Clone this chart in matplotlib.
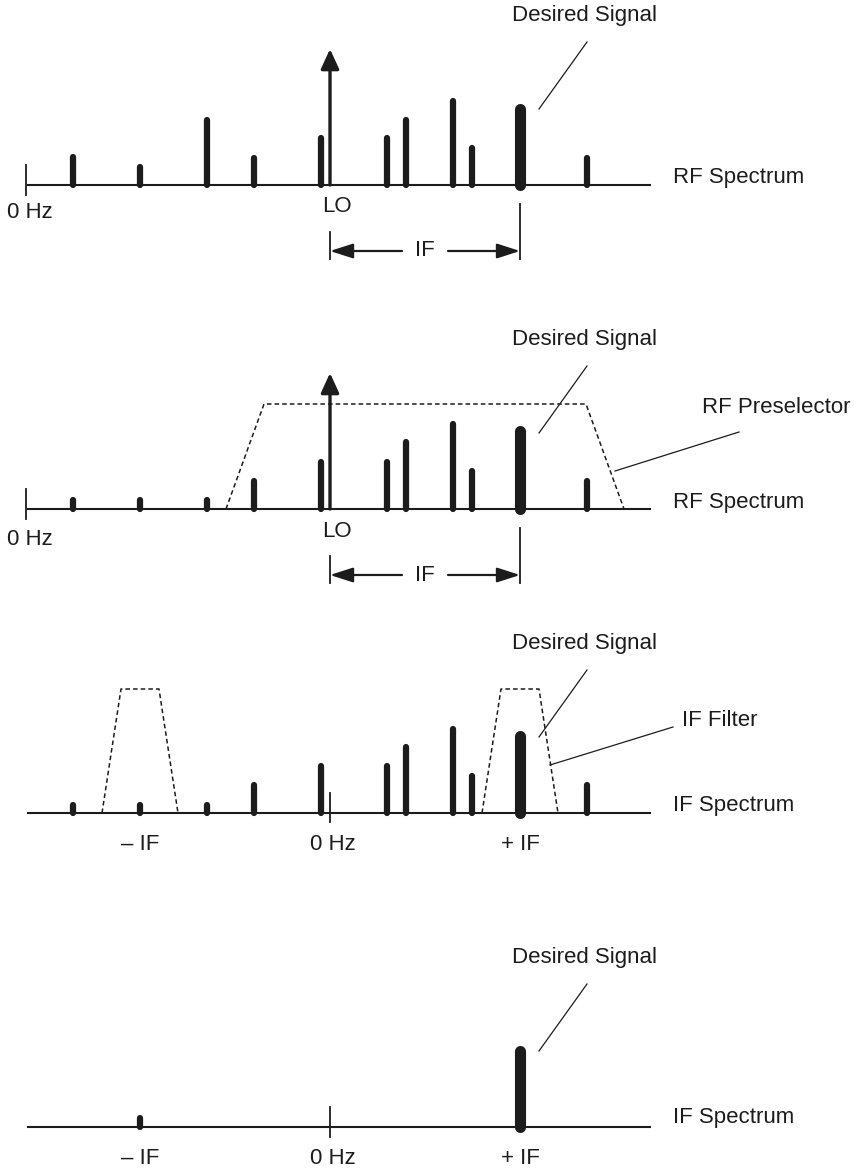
import matplotlib.pyplot as plt

plt.rcParams['font.family'] = ['Liberation Sans', 'DejaVu Sans']

INK = '#1c1c1c'
FS = 16

# signal positions in RF units (0 Hz = 0) and heights (arbitrary, ~px)
rf_freqs = [47, 114, 181, 228, 295, 361, 380, 427, 446, 494, 561]
rf_heights = [28, 18, 65, 27, 47, 47, 65, 84, 37, 76, 27]
lo_freq = 304
lo_height = 136
desired_freq = 494

# after preselector
pre_heights = [9, 9, 9, 28, 47, 47, 67, 85, 38, 78, 28]
preselector_x = [200, 238, 560, 598]
preselector_y = [0, 105, 105, 0]

# IF spectrum = RF - LO
if_freqs = [f - lo_freq for f in rf_freqs]
if_heights = [8, 8, 8, 28, 47, 47, 66, 84, 37, 77, 28]
if_offset = desired_freq - lo_freq
filter_dx = [-38, -19, 19, 38]
filter_y = [0, 124, 124, 0]

# after IF filter
final_freqs = [-if_offset, if_offset]
final_heights = [9, 76]

fig = plt.figure(figsize=(8.6, 11.68), dpi=100)
H = 1168.0


def panel(top, bot, base, x0):
    ax = fig.add_axes([0, 1 - bot / H, 1, (bot - top) / H])
    ax.set_xlim(-x0, 860 - x0)
    ax.set_ylim(-(bot - base), base - top)
    ax.axis('off')
    return ax


def spikes(ax, freqs, heights, desired):
    for f, h in zip(freqs, heights):
        lw = 8 if f == desired else 4.5
        ax.plot([f, f], [0, h], color=INK, lw=lw, solid_capstyle='round', zorder=3)


def desired_label(ax, f):
    ax.text(f + 65, 170, 'Desired Signal', ha='center', va='center', fontsize=FS, color=INK)
    ax.plot([f + 67, f + 19], [143, 76], color=INK, lw=0.9)


def lo_arrow(ax):
    ax.annotate('', xy=(lo_freq, lo_height), xytext=(lo_freq, 0),
                arrowprops=dict(arrowstyle='-|>,head_length=1.2,head_width=0.55',
                                lw=2.4, color=INK, shrinkA=0, shrinkB=0), zorder=4)


def if_dimension(ax):
    ax.plot([lo_freq, lo_freq], [-47, -74], color=INK, lw=1.3)
    ax.plot([desired_freq, desired_freq], [-19, -74], color=INK, lw=1.3)
    ax.text((lo_freq + desired_freq) / 2, -66, 'IF', ha='center', va='center', fontsize=FS, color=INK)
    for start, end in [(lo_freq + 72, lo_freq), (desired_freq - 72, desired_freq)]:
        ax.annotate('', xy=(end, -66), xytext=(start, -66),
                    arrowprops=dict(arrowstyle='-|>,head_length=1.4,head_width=0.45',
                                    lw=1.6, color=INK, shrinkA=0, shrinkB=0))


# ---- panel 1: RF spectrum
ax1 = panel(0, 292, 185, 26)
ax1.plot([2, 624], [0, 0], color=INK, lw=1.5)
ax1.plot([0, 0], [-10, 20], color=INK, lw=1.3)
spikes(ax1, rf_freqs, rf_heights, desired_freq)
lo_arrow(ax1)
ax1.text(-19, -28, '0 Hz', ha='left', va='center', fontsize=FS, color=INK)
ax1.text(lo_freq + 7, -22, 'LO', ha='center', va='center', fontsize=FS, color=INK)
ax1.text(647, 7, 'RF Spectrum', ha='left', va='center', fontsize=FS, color=INK)
desired_label(ax1, desired_freq)
if_dimension(ax1)

# ---- panel 2: RF spectrum with preselector
ax2 = panel(292, 600, 509, 26)
ax2.plot([2, 624], [0, 0], color=INK, lw=1.5)
ax2.plot([0, 0], [-10, 20], color=INK, lw=1.3)
spikes(ax2, rf_freqs, pre_heights, desired_freq)
ax2.plot(preselector_x, preselector_y, color=INK, lw=1.1, ls=(0, (3, 2)))
lo_arrow(ax2)
ax2.text(-19, -30, '0 Hz', ha='left', va='center', fontsize=FS, color=INK)
ax2.text(lo_freq + 7, -22, 'LO', ha='center', va='center', fontsize=FS, color=INK)
ax2.text(647, 7, 'RF Spectrum', ha='left', va='center', fontsize=FS, color=INK)
ax2.text(676, 102, 'RF Preselector', ha='left', va='center', fontsize=FS, color=INK)
ax2.plot([713, 589], [77, 38], color=INK, lw=0.9)
desired_label(ax2, desired_freq)
if_dimension(ax2)

# ---- panel 3: IF spectrum with IF filter
ax3 = panel(600, 930, 813, 330)
ax3.plot([-302, 320], [0, 0], color=INK, lw=1.5)
ax3.plot([0, 0], [-9, 20], color=INK, lw=1.3)
spikes(ax3, if_freqs, if_heights, if_offset)
for c in (-if_offset, if_offset):
    ax3.plot([c + d for d in filter_dx], filter_y, color=INK, lw=1.1, ls=(0, (3, 2)), zorder=2)
ax3.text(-if_offset, -31, '– IF', ha='center', va='center', fontsize=FS, color=INK)
ax3.text(3, -31, '0 Hz', ha='center', va='center', fontsize=FS, color=INK)
ax3.text(if_offset, -31, '+ IF', ha='center', va='center', fontsize=FS, color=INK)
ax3.text(343, 8, 'IF Spectrum', ha='left', va='center', fontsize=FS, color=INK)
ax3.text(352, 93, 'IF Filter', ha='left', va='center', fontsize=FS, color=INK)
ax3.plot([343, 220], [86, 48], color=INK, lw=0.9)
desired_label(ax3, if_offset)

# ---- panel 4: filtered IF
ax4 = panel(930, 1168, 1127, 330)
ax4.plot([-302, 320], [0, 0], color=INK, lw=1.5)
ax4.plot([0, 0], [-10, 20], color=INK, lw=1.3)
spikes(ax4, final_freqs, final_heights, if_offset)
ax4.text(-if_offset, -31, '– IF', ha='center', va='center', fontsize=FS, color=INK)
ax4.text(3, -31, '0 Hz', ha='center', va='center', fontsize=FS, color=INK)
ax4.text(if_offset, -31, '+ IF', ha='center', va='center', fontsize=FS, color=INK)
ax4.text(343, 9, 'IF Spectrum', ha='left', va='center', fontsize=FS, color=INK)
desired_label(ax4, if_offset)

fig.savefig('out.png', dpi=100, facecolor='white')
